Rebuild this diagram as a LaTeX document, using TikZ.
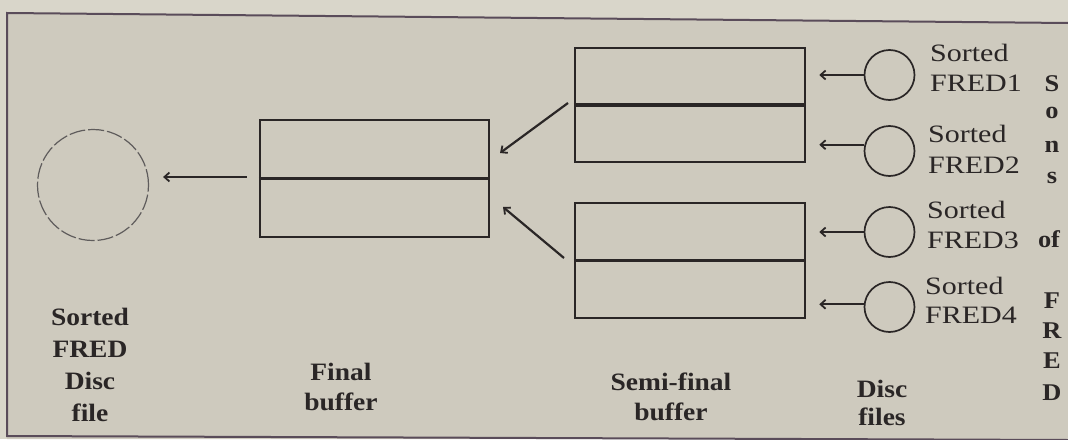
\documentclass[tikz,border=0pt]{standalone}
\usepackage{fontspec}
\setmainfont{Liberation Serif}
\newfontfamily\wideserif[FakeStretch=1.2]{Liberation Serif}
\newfontfamily\widebold[FakeStretch=1.1]{Liberation Serif}
\usetikzlibrary{arrows.meta}
\definecolor{paperout}{RGB}{217,214,202}
\definecolor{paperin}{RGB}{206,202,190}
\definecolor{ink}{RGB}{42,38,38}
\definecolor{framecol}{RGB}{90,76,90}
\begin{document}
\begin{tikzpicture}[x=1pt,y=-1pt,
  bufbox/.style={draw=ink, line width=2.5pt, rectangle, inner sep=0pt},
  midline/.style={draw=ink, line width=3.4pt},
  disc/.style={draw=ink, line width=1.7pt, circle, inner sep=0pt, minimum size=50pt},
  bigdisc/.style={draw=ink!75, line width=1.2pt, dash pattern=on 16pt off 3pt, circle, inner sep=0pt, minimum size=111pt},
  arr/.style={draw=ink, line width=2.2pt, -{Straight Barb[length=5pt,width=9pt,line width=1.8pt]}},
  plainlbl/.style={anchor=base west, inner sep=0pt, text=ink, font=\wideserif\fontsize{25}{30}\selectfont},
  boldlbl/.style={anchor=north, inner sep=0pt, align=center, text=ink, font=\widebold\bfseries\fontsize{25}{30}\selectfont},
  vlbl/.style={anchor=base, inner sep=0pt, text=ink, font=\widebold\bfseries\fontsize{24}{28}\selectfont}
]
\useasboundingbox (0,0) rectangle (1068,439);
\fill[paperout] (0,0) rectangle (1068,439);
\fill[paperin] (7,13) -- (1068,23) -- (1068,439) -- (7,439) -- cycle;
\draw[framecol, line width=2pt] (1068,23) -- (7,13) -- (7,436) -- (1068,440);

% final output disc
\node[bigdisc] (out) at (93,185) {};

% final buffer
\node[bufbox, minimum width=229pt, minimum height=117pt] (final) at (374.5,178.5) {};
\draw[midline] (final.west) -- (final.east);

% semi-final buffers
\node[bufbox, minimum width=230pt, minimum height=114pt] (semi1) at (690,105) {};
\draw[midline] (semi1.west) -- (semi1.east);
\node[bufbox, minimum width=230pt, minimum height=115pt] (semi2) at (690,260.5) {};
\draw[midline] (semi2.west) -- (semi2.east);

% disc files
\node[disc] (f1) at (889.5,75) {};
\node[disc] (f2) at (889.5,151) {};
\node[disc] (f3) at (889.5,232) {};
\node[disc] (f4) at (889.5,307) {};

% arrows
\draw[arr, shorten <=12pt, shorten >=14pt] (final.west |- 0,177) -- (out.east |- 0,177);
\coordinate (s1) at (568,103);
\coordinate (t1) at (500,153);
\coordinate (s2) at (564,258);
\coordinate (t2) at (503,207);
\draw[arr] (s1) -- (t1);
\draw[arr] (s2) -- (t2);
\draw[arr, shorten >=13pt] (f1.west) -- (f1.west -| semi1.east);
\draw[arr, shorten >=13pt] (f2.166) -- (f2.166 -| semi1.east);
\draw[arr, shorten >=13pt] (f3.west) -- (f3.west -| semi2.east);
\draw[arr, shorten >=13pt] (f4.174) -- (f4.174 -| semi2.east);

% disc file labels
\node[plainlbl] (l1a) at (930,61) {Sorted};
\node[plainlbl] (l1b) at (930,91) {FRED1};
\node[plainlbl] (l2a) at (928,142) {Sorted};
\node[plainlbl] (l2b) at (928,173) {FRED2};
\node[plainlbl] (l3a) at (927,218) {Sorted};
\node[plainlbl] (l3b) at (927,248) {FRED3};
\node[plainlbl] (l4a) at (925,294) {Sorted};
\node[plainlbl] (l4b) at (925,323) {FRED4};

% bottom captions
\node[boldlbl, font=\widebold\bfseries\fontsize{25}{32}\selectfont] (cap1) at (90,308) {Sorted\\FRED\\Disc\\file};
\node[boldlbl] (cap2) at (341,363) {Final\\buffer};
\node[boldlbl] (cap3) at (671,373) {Semi-final\\buffer};
\node[boldlbl, font=\widebold\bfseries\fontsize{25}{28}\selectfont] (cap4) at (882,380) {Disc\\files};

% vertical caption
\foreach \c/\x/\y in {S/1052/91, o/1052/118, n/1052/152, s/1052/183, of/1049/247, F/1052/308, R/1052/338, E/1052/368, D/1052/400}
  \node[vlbl, name=v\y] at (\x,\y) {\c};
\end{tikzpicture}
\end{document}
